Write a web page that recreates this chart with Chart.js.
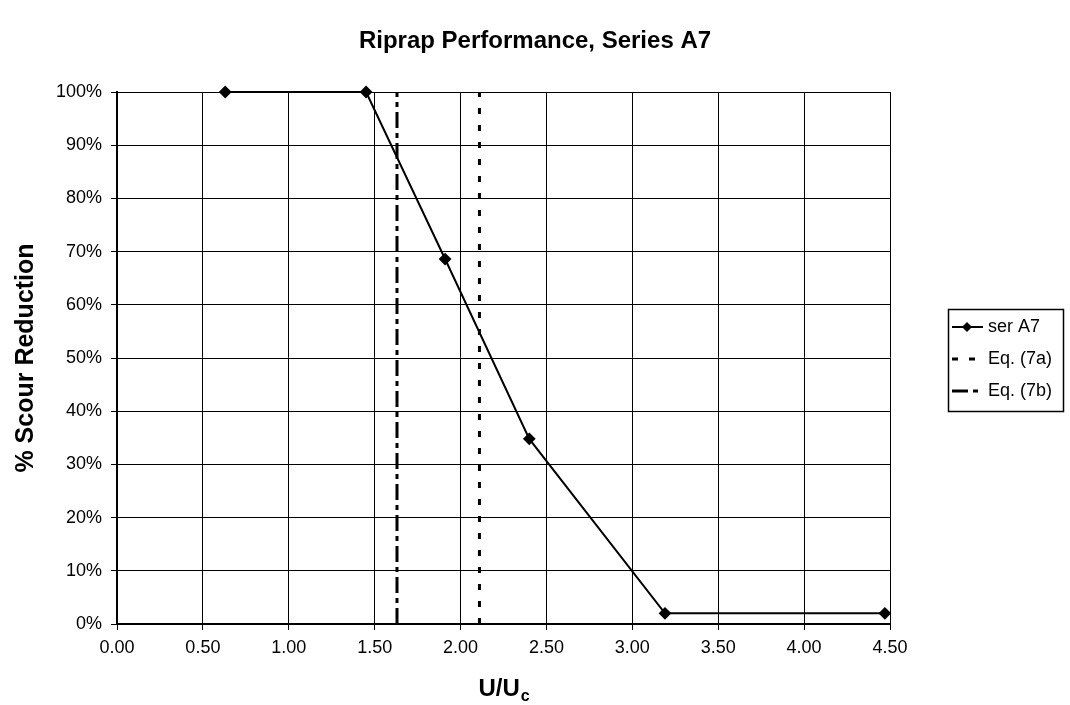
<!DOCTYPE html>
<html>
<head>
<meta charset="utf-8">
<script src="https://cdn.jsdelivr.net/npm/chart.js@4.4.1/dist/chart.umd.min.js"></script>
<style>
    html, body { margin: 0; padding: 0; background: #fff; }
    #wrap { width: 1070px; height: 705px; position: relative; }
</style>
</head>
<body>
<div id="wrap"><canvas id="riprapChart" width="1070" height="705"></canvas></div>
<script>
"use strict";

// values
const chartTitle = "Riprap Performance, Series A7";
const yTitle = "% Scour Reduction";
const serA7Label = "ser A7";
const serA7X = [0.63, 1.45, 1.91, 2.40, 3.19, 4.47];
const serA7Y = [100, 100, 68.6, 34.8, 2, 2];
const eq7aLabel = "Eq. (7a)";
const eq7aX = [2.11, 2.11];
const eq7aY = [0, 100];
const eq7bLabel = "Eq. (7b)";
const eq7bX = [1.63, 1.63];
const eq7bY = [0, 100];
const xMin = 0, xMax = 4.5, xStep = 0.5;
const yMin = 0, yMax = 100, yStep = 10;

const FONT = "'Liberation Sans', Arial, Helvetica, sans-serif";
const DOTTED = [6, 11];
const DASH_DOT = [16, 5, 5, 5];

function toPoints(xs, ys) {
    return xs.map((x, i) => ({ x: x, y: ys[i] }));
}

// chart title, x title with subscript and the boxed legend
const annotationsPlugin = {
    id: "excelExtras",
    afterDraw(chart) {
        const ctx = chart.ctx;
        const area = chart.chartArea;
        ctx.save();
        ctx.fillStyle = "#000";

        ctx.font = "bold 24px " + FONT;
        ctx.textAlign = "center";
        ctx.textBaseline = "middle";
        ctx.fillText(chartTitle, 535, 41);

        // U/Uc
        const main = "U/U";
        ctx.font = "bold 24px " + FONT;
        const mainW = ctx.measureText(main).width;
        ctx.font = "bold 16px " + FONT;
        const subW = ctx.measureText("c").width;
        const cx = (area.left + area.right) / 2;
        const startX = cx - (mainW + subW) / 2;
        ctx.textAlign = "left";
        ctx.textBaseline = "alphabetic";
        ctx.font = "bold 24px " + FONT;
        ctx.fillText(main, startX, 696);
        ctx.font = "bold 16px " + FONT;
        ctx.fillText("c", startX + mainW + 1, 701);

        // legend
        const lx = 948, ly = 309, lw = 115, lh = 102;
        ctx.lineWidth = 1.5;
        ctx.strokeStyle = "#000";
        ctx.strokeRect(lx + 0.5, ly + 0.5, lw, lh);

        const rows = [
            { label: serA7Label, dash: [], width: 2, marker: true },
            { label: eq7aLabel, dash: DOTTED, width: 3, marker: false },
            { label: eq7bLabel, dash: DASH_DOT, width: 3, marker: false }
        ];
        rows.forEach((row, i) => {
            const y = ly + 18 + i * 32;
            ctx.beginPath();
            ctx.setLineDash(row.dash);
            ctx.lineWidth = row.width;
            ctx.moveTo(952, y);
            ctx.lineTo(983, y);
            ctx.stroke();
            ctx.setLineDash([]);
            if (row.marker) {
                ctx.beginPath();
                ctx.moveTo(967, y - 5);
                ctx.lineTo(972, y);
                ctx.lineTo(967, y + 5);
                ctx.lineTo(962, y);
                ctx.closePath();
                ctx.fill();
            }
            ctx.font = "18px " + FONT;
            ctx.textAlign = "left";
            ctx.textBaseline = "middle";
            ctx.fillText(row.label, 988, y);
        });

        ctx.restore();
    }
};

let riprapChart;

document.addEventListener("DOMContentLoaded", () => {
    initializeChart();
});

function initializeChart() {
    const ctx = document.getElementById("riprapChart");

    if (!ctx) {
        console.warn("riprapChart canvas not found.");
        return;
    }

    Chart.defaults.font.family = FONT;
    Chart.defaults.color = "#000";

    riprapChart = new Chart(ctx, {
        type: "scatter",
        data: {
            datasets: [
                {
                    label: serA7Label,
                    data: toPoints(serA7X, serA7Y),
                    showLine: true,
                    clip: false,
                    borderColor: "#000",
                    backgroundColor: "#000",
                    borderWidth: 2,
                    pointStyle: "rectRot",
                    pointRadius: 5,
                    pointHoverRadius: 5,
                    order: 1
                },
                {
                    label: eq7aLabel,
                    data: toPoints(eq7aX, eq7aY),
                    showLine: true,
                    borderColor: "#000",
                    borderWidth: 3,
                    borderDash: DOTTED,
                    pointRadius: 0,
                    order: 2
                },
                {
                    label: eq7bLabel,
                    data: toPoints(eq7bX, eq7bY),
                    showLine: true,
                    borderColor: "#000",
                    borderWidth: 3,
                    borderDash: DASH_DOT,
                    pointRadius: 0,
                    order: 3
                }
            ]
        },
        options: {
            responsive: false,
            animation: false,
            maintainAspectRatio: false,
            layout: {
                padding: { top: 92, right: 180, bottom: 0, left: 0 }
            },
            plugins: {
                legend: { display: false },
                title: { display: false },
                tooltip: { enabled: false }
            },
            scales: {
                x: {
                    type: "linear",
                    min: xMin,
                    max: xMax,
                    afterFit: axis => { axis.height = 81; },
                    ticks: {
                        stepSize: xStep,
                        padding: 7,
                        font: { size: 18 },
                        callback: value => Number(value).toFixed(2)
                    },
                    grid: {
                        color: "#000",
                        lineWidth: 1,
                        tickLength: 6
                    },
                    border: { color: "#000", width: 2 }
                },
                y: {
                    min: yMin,
                    max: yMax,
                    afterFit: axis => { axis.width = 117; },
                    ticks: {
                        stepSize: yStep,
                        padding: 9,
                        font: { size: 18 },
                        callback: value => value + "%"
                    },
                    title: {
                        display: true,
                        text: yTitle,
                        font: { size: 25, weight: "bold" },
                        padding: { top: 11, bottom: 0 }
                    },
                    grid: {
                        color: "#000",
                        lineWidth: 1,
                        tickLength: 6
                    },
                    border: { color: "#000", width: 2 }
                }
            }
        },
        plugins: [annotationsPlugin]
    });
}
</script>
</body>
</html>
